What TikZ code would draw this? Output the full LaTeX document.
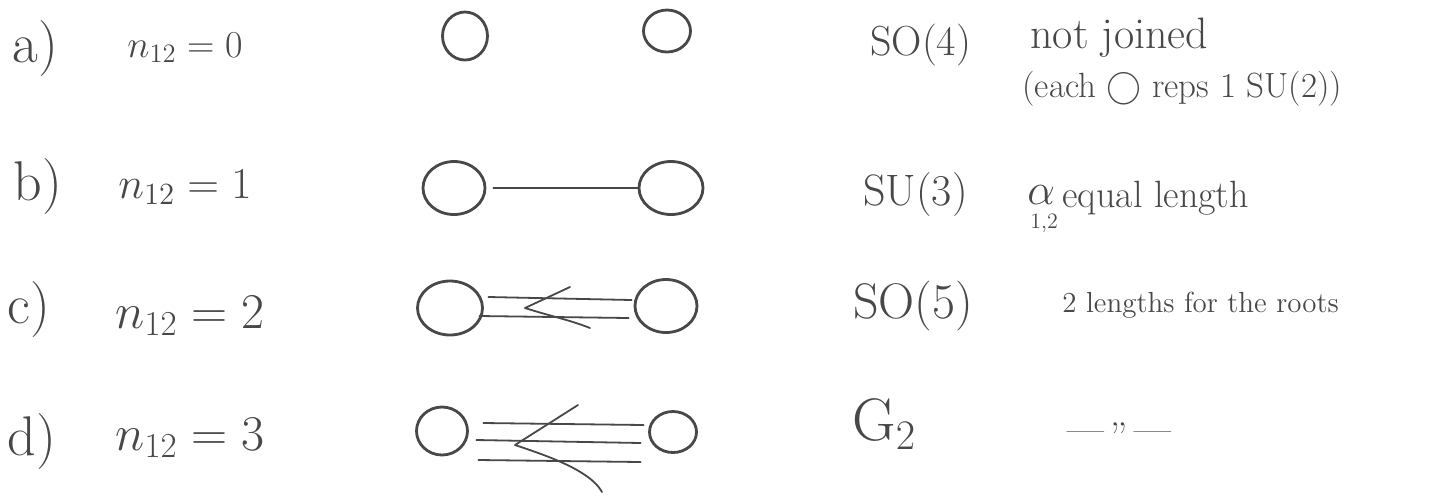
\RequirePackage{fix-cm}
\documentclass[tikz,border=0pt]{standalone}
\usepackage{fontspec}
\usetikzlibrary{shapes.geometric}
\definecolor{ink}{RGB}{72,72,72}
\begin{document}
\begin{tikzpicture}[x=0.5pt,y=-0.5pt,
  blob/.style={draw=ink, line width=1.4pt, ellipse, inner sep=0pt},
  bond/.style={draw=ink, line width=0.9pt, line cap=round, line join=round},
  txt/.style={text=ink, anchor=base west, inner sep=0pt},
  fs/.style={font=\fontsize{#1}{#1}\selectfont}]
\useasboundingbox[fill=white] (0,0) rectangle (1432,495);

% row labels
\node[txt,fs=28] (la) at (12,62) {a)};
\node[txt,fs=19] (na) at (127,57) {$n_{12}=0$};
\node[txt,fs=28] (lb) at (13,200) {b)};
\node[txt,fs=22] (nb) at (118,198) {$n_{12}=1$};
\node[txt,fs=28] (lc) at (7,323) {c)};
\node[txt,fs=25] (nc) at (115,328) {$n_{12}=2$};
\node[txt,fs=28] (ld) at (7,455) {d)};
\node[txt,fs=25] (nd) at (115,450) {$n_{12}=3$};

% circles
\node[blob, minimum width=22.5pt, minimum height=24pt] (a1) at (465,36) {};
\node[blob, minimum width=23.5pt, minimum height=21pt] (a2) at (667,31) {};
\node[blob, minimum width=31pt, minimum height=26.5pt] (b1) at (454,188) {};
\node[blob, minimum width=32pt, minimum height=26.5pt] (b2) at (671,188) {};
\node[blob, minimum width=32.5pt, minimum height=27pt] (c1) at (450,308) {};
\node[blob, minimum width=31pt, minimum height=26.5pt] (c2) at (666,306) {};
\node[blob, minimum width=25.5pt, minimum height=24pt] (d1) at (442,431) {};
\node[blob, minimum width=23.5pt, minimum height=20.5pt] (d2) at (673,432) {};

% b) single bond
\draw[bond, shorten <=3.5pt] (b1) -- (b2);

% c) double bond
\draw[bond] ([xshift=2.25pt,yshift=5.5pt]c1.east) -- ([xshift=-1pt,yshift=3pt]c2.west);
\draw[bond] ([xshift=-2.25pt,yshift=-4pt]c1.east) -- ([xshift=-2.5pt,yshift=-6pt]c2.west);
\draw[bond] (570,287) -- (525,308) .. controls (550,316) and (570,320) .. (590,328);

% d) triple bond
\draw[bond] ([xshift=7.25pt,yshift=4pt]d1.east) -- ([xshift=-2.25pt,yshift=3.5pt]d2.west);
\draw[bond] ([xshift=3.75pt,yshift=-4.5pt]d1.east) -- ([xshift=-3.75pt,yshift=-5.5pt]d2.west);
\draw[bond] ([xshift=4.75pt,yshift=-14.5pt]d1.east) -- ([xshift=-3.75pt,yshift=-15pt]d2.west);
\draw[bond] (578,405) -- (515,445) .. controls (545,455) and (590,470) .. (602,492);

% group names
\node[txt,fs=21] (ga) at (870,55) {SO(4)};
\node[txt,fs=22] (gb) at (863,205) {SU(3)};
\node[txt,fs=25] (gc) at (853,318) {SO(5)};
\node[txt,fs=30] (gd) at (852,440) {G$_2$};

% comments
\node[txt,fs=22] (ta) at (1030,48) {not joined};
\node[txt,fs=17.5] (ta2) at (1022,97) {(each $\bigcirc$ reps 1 SU(2))};
\node[txt,fs=22] (alp) at (1027,204) {$\alpha$};
\node[txt,fs=11] (alpi) at (1030,228) {1,2};
\node[txt,fs=19] (tb) at (1062,207) {equal length};
\node[txt,fs=14.5] (tc) at (1062,312) {2 lengths for the roots};
\node[txt,fs=20] (td) at (1067,442) {---\,\raisebox{-0.2em}{''}\,---};
\end{tikzpicture}
\end{document}
